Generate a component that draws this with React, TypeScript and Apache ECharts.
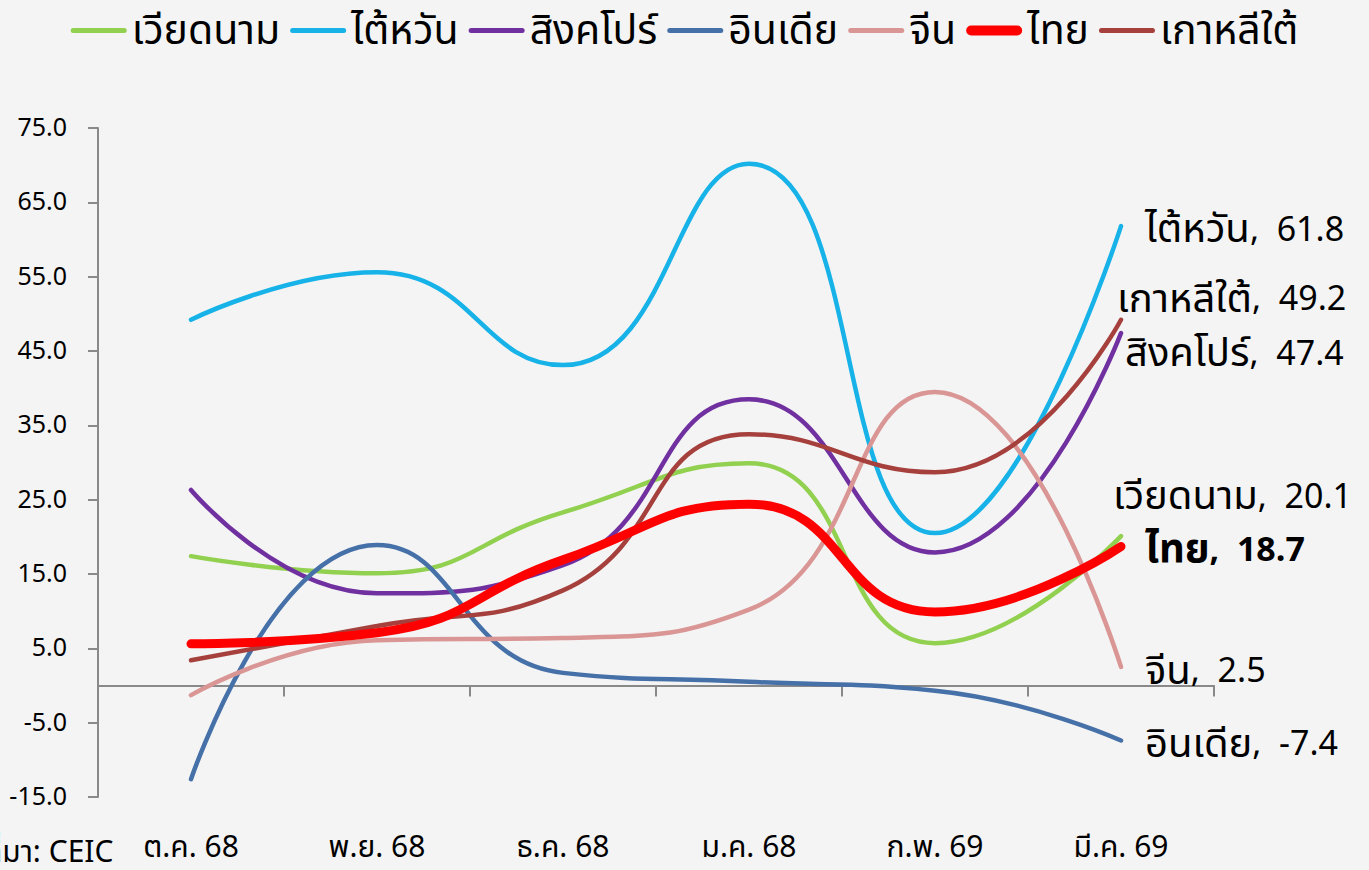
import React, { useEffect, useRef } from "react";
import * as echarts from "echarts";

const categories = ["ต.ค. 68", "พ.ย. 68", "ธ.ค. 68", "ม.ค. 68", "ก.พ. 69", "มี.ค. 69"];
const yTicks = [-15, -5, 5, 15, 25, 35, 45, 55, 65, 75];

const vietnam = [17.4, 15.1, 23.3, 29.9, 5.7, 20.1];
const taiwan = [49.2, 55.6, 43.1, 70.2, 20.5, 61.8];
const singapore = [26.3, 12.4, 16.2, 38.5, 17.9, 47.4];
const india = [-12.6, 18.9, 1.7, 0.5, -0.7, -7.4];
const china = [-1.3, 6.1, 6.4, 10.2, 39.5, 2.5];
const thailand = [5.6, 7.1, 16.9, 24.4, 9.9, 18.7];
const korea = [3.4, 8.0, 12.8, 33.8, 28.7, 49.2];

const FONT = "'Noto Sans Thai', 'Noto Sans', sans-serif";

const ICON_THIN = "path://M0,0M0,10M2.5,2.5L53.5,2.5A2.5,2.5,0,0,1,53.5,7.5L2.5,7.5A2.5,2.5,0,0,1,2.5,2.5Z";
const ICON_THICK = "path://M0,0M0,10M5,0L51,0A5,5,0,0,1,51,10L5,10A5,5,0,0,1,5,0Z";

type S = {
  name: string;
  data: number[];
  color: string;
  width: number;
  dx: number;
  dy: number;
  bold?: boolean;
  z?: number;
};

const seriesDefs: S[] = [
  { name: "เวียดนาม", data: vietnam, color: "#92D050", width: 4.5, dx: -8, dy: -39 },
  { name: "ไต้หวัน", data: taiwan, color: "#16B2E8", width: 4.5, dx: 24, dy: 4 },
  { name: "สิงคโปร์", data: singapore, color: "#7030A0", width: 4.5, dx: 4, dy: 21 },
  { name: "อินเดีย", data: india, color: "#4570A8", width: 4.5, dx: 24, dy: 4 },
  { name: "จีน", data: china, color: "#D99694", width: 4.5, dx: 24, dy: 5 },
  { name: "ไทย", data: thailand, color: "#FF0000", width: 9, dx: 24, dy: 4, bold: true, z: 5 },
  { name: "เกาหลีใต้", data: korea, color: "#A5403D", width: 4.5, dx: -4, dy: -20 },
];

export default function App() {
  const ref = useRef<HTMLDivElement>(null);
  useEffect(() => {
    document.body.style.margin = "0";
    const chart = echarts.init(ref.current!, null, { renderer: "svg" });
    const series = seriesDefs.map((s) => ({
      name: s.name,
      type: "line",
      smooth: 0.5,
      symbol: "none",
      z: s.z ?? 2,
      lineStyle: { color: s.color, width: s.width, cap: "round" },
      itemStyle: { color: s.color },
      xAxisIndex: 0,
      data: s.data,
      endLabel: {
        show: true,
        distance: 0,
        offset: [s.dx, s.dy],
        formatter: (p: any) => `{n|${p.seriesName}}{v|,  ${p.value}}`,
        rich: {
          n: { fontSize: 40, lineHeight: 40, fontFamily: FONT, fontWeight: s.bold ? "bold" : "normal", color: "#000" },
          v: { fontSize: 34, lineHeight: 40, fontFamily: FONT, fontWeight: s.bold ? "bold" : "normal", color: "#000" },
        },
      },
    }));
    chart.setOption({
      animation: false,
      backgroundColor: "#F4F4F4",
      textStyle: { fontFamily: FONT },
      legend: {
        top: 5,
        left: "center",
        itemGap: 10,
        itemWidth: 56,
        itemHeight: 10,
        itemStyle: { borderWidth: 0 },
        textStyle: { fontSize: 41, fontFamily: FONT, color: "#000" },
        data: seriesDefs.map((s) => ({ name: s.name, icon: s.bold ? ICON_THICK : ICON_THIN })),
      },
      grid: { left: 98, top: 128, width: 1116, height: 669, containLabel: false },
      xAxis: [
        {
          type: "category",
          data: categories,
          position: "bottom",
          axisLine: { show: false, onZero: false },
          axisTick: { show: false },
          axisLabel: { margin: 36, fontSize: 30, color: "#000", fontFamily: FONT },
        },
        {
          type: "category",
          data: categories,
          position: "bottom",
          axisLine: { show: true, onZero: true, lineStyle: { color: "#898989", width: 2 } },
          axisTick: { show: true, length: 11, lineStyle: { color: "#898989", width: 2 } },
          axisLabel: { show: false },
        },
      ],
      yAxis: {
        type: "value",
        min: -15,
        max: 75,
        splitLine: { show: false },
        axisLine: { show: true, lineStyle: { color: "#898989", width: 2 } },
        axisTick: { show: true, length: 10, customValues: yTicks, lineStyle: { color: "#898989", width: 2 } },
        axisLabel: {
          customValues: yTicks,
          margin: 31,
          fontSize: 25,
          color: "#000",
          fontFamily: FONT,
          formatter: (v: number) => v.toFixed(1),
        },
      },
      graphic: [
        {
          type: "text",
          left: -16,
          top: 838,
          style: { text: "ที่มา: CEIC", fontSize: 30, fontFamily: FONT, fill: "#000" },
        },
      ],
      series,
    });
    return () => chart.dispose();
  }, []);
  return <div ref={ref} style={{ width: 1369, height: 870 }} />;
}
